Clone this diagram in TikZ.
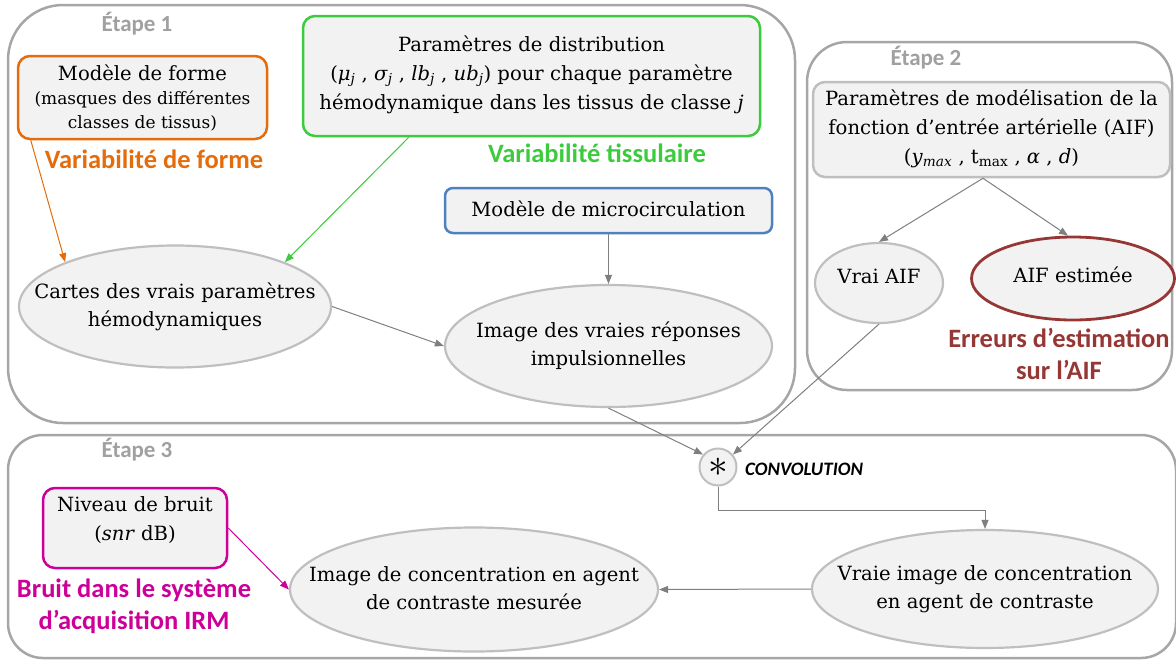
\documentclass[tikz,border=0pt]{standalone}
\usepackage{graphicx}
\usepackage{fontspec}
\setmainfont{DejaVu Serif}
\newfontfamily\labfont{Carlito}
\usetikzlibrary{shapes.geometric,arrows.meta}
\definecolor{cOrange}{HTML}{E46C0A}
\definecolor{cGreen}{HTML}{3CCB3C}
\definecolor{cBlue}{HTML}{4F81BD}
\definecolor{cMag}{HTML}{CC0099}
\definecolor{cRed}{HTML}{953735}
\definecolor{cFill}{HTML}{F2F2F2}
\definecolor{cEdge}{HTML}{BFBFBF}
\definecolor{cStage}{HTML}{A6A6A6}
\definecolor{cArrow}{HTML}{7F7F7F}
\definecolor{cLabel}{HTML}{A0A0A0}
\newcommand\ctr[1]{\makebox[0pt]{\begin{tabular}{@{}c@{}}#1\end{tabular}}}
\newcommand\subj{\textsubscript{\textit{j}}}
\tikzset{
  stage/.style={draw=cStage, line width=2.5pt},
  stagelab/.style={font=\labfont\bfseries\fontsize{23}{25}\selectfont, text=cLabel, inner sep=0},
  rbox/.style={draw, fill=cFill, line width=2.5pt, rounded corners=12pt, align=center, inner sep=0,
    font=\fontsize{19.6}{29}\selectfont},
  oval/.style={ellipse, draw=cEdge, fill=cFill, line width=2.2pt, inner sep=0,
    font=\fontsize{19.6}{28}\selectfont},
  varlab/.style={font=\labfont\bfseries\fontsize{26.5}{32}\selectfont, align=center, inner sep=0},
  arr/.style={draw=cArrow, line width=1pt, -{Triangle[length=9pt,width=7pt]}},
}
\begin{document}
\begin{tikzpicture}[x=1pt,y=-1pt]
\useasboundingbox (0,0) rectangle (1176,662);
% stage frames
\draw[stage, rounded corners=55pt] (8,5) rectangle (795,423);
\draw[stage, rounded corners=40pt] (807,42) rectangle (1172,390);
\draw[stage, rounded corners=35pt] (8,435) rectangle (1176,658);
\node[stagelab] (e1) at (137,24) {Étape 1};
\node[stagelab] (e2) at (926,58) {Étape 2};
\node[stagelab] (e3) at (137,450) {Étape 3};

% Etape 1
\node[rbox, draw=cOrange, minimum width=249pt, minimum height=83pt] (forme) at (142.5,97.5)
  {Modèle de forme\\[-5pt]{\fontsize{17}{24}\selectfont (masques des différentes}\\[-5pt]{\fontsize{17}{24}\selectfont classes de tissus)}};
\node[varlab, text=cOrange] (vforme) at (154,159) {Variabilité de forme};
\node[rbox, draw=cGreen, minimum width=457pt, minimum height=120pt] (distr) at (531.5,76)
  {Paramètres de distribution\\(\textit{μ}\subj\ , \textit{σ}\subj\ , \textit{lb}\subj\ , \textit{ub}\subj) pour chaque paramètre\\hémodynamique dans les tissus de classe \textit{j}\rule[-6pt]{0pt}{0pt}};
\node[varlab, text=cGreen] (vtissu) at (597,153) {Variabilité tissulaire};
\node[rbox, draw=cBlue, rounded corners=8pt, minimum width=327pt, minimum height=45pt] (micro) at (608.5,210.5)
  {Modèle de microcirculation\rule[-4pt]{0pt}{0pt}};
\node[oval, minimum width=312pt, minimum height=122pt] (cartes) at (175,306.5)
  {\ctr{Cartes des vrais paramètres\\hémodynamiques}};
\node[oval, minimum width=327pt, minimum height=122pt] (image) at (608.5,346)
  {\ctr{Image des vraies réponses\\impulsionnelles}};

% Etape 2
\node[rbox, draw=cEdge, minimum width=357pt, minimum height=95pt] (param) at (991.5,129.5)
  {Paramètres de modélisation de la\\fonction d’entrée artérielle (AIF)\\(\textit{y}\textsubscript{\textit{max}} , t\textsubscript{max} , \textit{α} , \textit{d})\rule[-6pt]{0pt}{0pt}};
\node[oval, minimum width=128pt, minimum height=80pt] (vrai) at (879,283)
  {\ctr{Vrai AIF\rule[-18pt]{0pt}{0pt}}};
\node[oval, draw=cRed, line width=2.8pt, minimum width=203pt, minimum height=83pt] (estim) at (1073,278.5)
  {\ctr{AIF estimée\rule[-12pt]{0pt}{0pt}}};
\node[varlab, text=cRed] (verr) at (1059,354) {Erreurs d’estimation\\sur l’AIF};

% Etape 3
\node[circle, draw=cEdge, fill=cFill, line width=2pt, minimum size=37pt, inner sep=0] (conv) at (718,467)
  {\scalebox{1.9}{\fontsize{20}{20}\selectfont$\ast$}};
\node[anchor=west, inner sep=0, font=\labfont\bfseries\itshape\fontsize{19}{20}\selectfont] (convlab) at (745,469) {CONVOLUTION};
\node[rbox, draw=cMag, minimum width=184pt, minimum height=80pt] (bruit) at (135,528)
  {Niveau de bruit\\(\textit{snr} dB)\rule[-18pt]{0pt}{0pt}};
\node[varlab, text=cMag] (vbruit) at (134,606) {Bruit dans le système\\d’acquisition IRM};
\node[oval, minimum width=368pt, minimum height=124pt] (mesure) at (474,589.5)
  {\ctr{Image de concentration en agent\\de contraste mesurée}};
\node[oval, minimum width=346pt, minimum height=118pt] (vraie) at (985,589)
  {\ctr{Vraie image de concentration\\en agent de contraste}};

% connectors
\draw[arr, draw=cOrange, cOrange] ([xshift=14pt]forme.south west) -- (cartes.158);
\draw[arr, draw=cGreen, cGreen] ([xshift=107pt]distr.south west) -- (cartes.22);
\draw[arr, cArrow] (micro.south) -- (image.north);
\draw[arr, cArrow] (cartes.east) -- (image.west);
\draw[arr, cArrow] ([xshift=-8.5pt]param.south) -- (vrai.north);
\draw[arr, cArrow] ([xshift=-8.5pt]param.south) -- ([xshift=-5pt]estim.north);
\draw[arr, cArrow] (image.south) -- (conv.140);
\draw[arr, cArrow] (vrai.south) -- (conv.40);
\draw[arr, cArrow] (conv.south) -- ++(0,24) -| (vraie.north);
\draw[arr, cArrow] (vraie.west) -- (mesure.east);
\draw[arr, draw=cMag, cMag] (bruit.east) -- (mesure.west);
\end{tikzpicture}
\end{document}
